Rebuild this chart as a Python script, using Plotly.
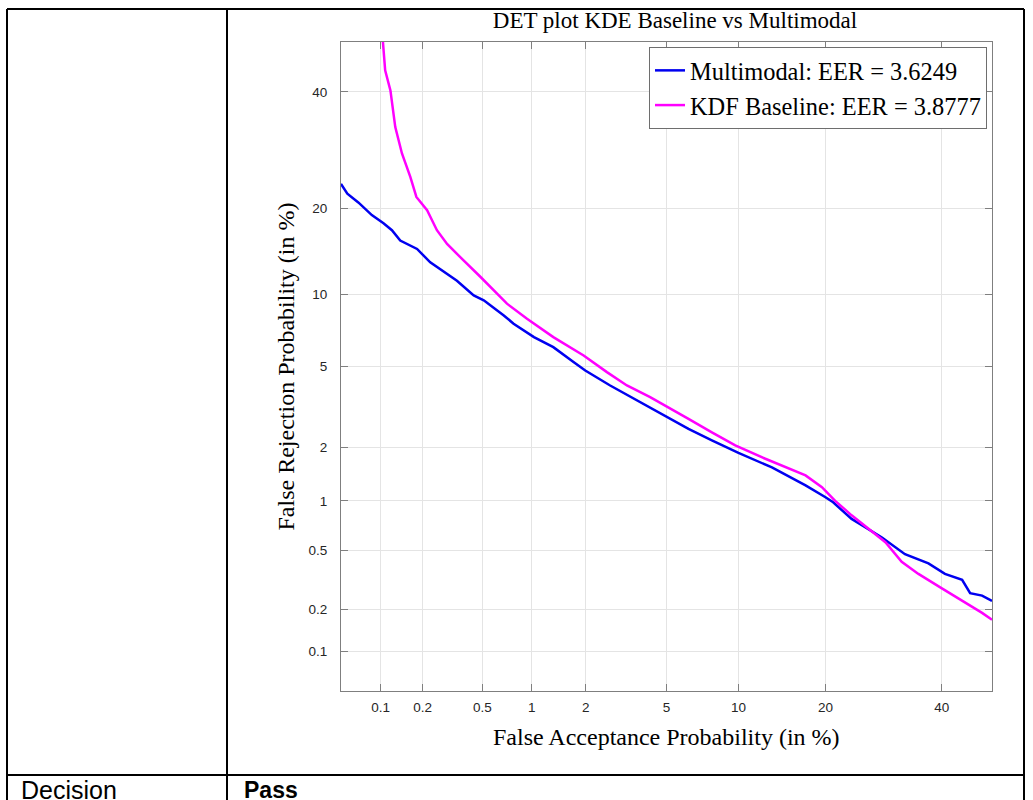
from statistics import NormalDist
import plotly.graph_objects as go

# DET curve points (both axes in %)
multimodal_fa = [0.05, 0.056, 0.068, 0.077, 0.086, 0.105, 0.121, 0.139, 0.183, 0.226,
                 0.279, 0.342, 0.44, 0.51, 0.68, 0.78, 1.03, 1.33, 1.72, 1.99,
                 2.68, 3.77, 5.10, 6.25, 7.84, 10.0, 13.3, 17.3, 20.0, 21.1,
                 23.9, 28.9, 33.0, 37.4, 40.6, 44.0, 45.6, 48.0, 50.0]
multimodal_fr = [23.6, 22.1, 20.8, 19.9, 19.0, 17.9, 17.0, 15.7, 14.7, 13.2,
                 12.2, 11.3, 9.94, 9.51, 8.28, 7.66, 6.73, 6.09, 5.23, 4.79,
                 4.08, 3.39, 2.86, 2.49, 2.17, 1.86, 1.55, 1.23, 1.05, 0.98,
                 0.78, 0.60, 0.47, 0.41, 0.35, 0.32, 0.26, 0.25, 0.23]

kde_fa = [0.104, 0.108, 0.118, 0.128, 0.143, 0.164, 0.181, 0.215, 0.251, 0.294,
          0.378, 0.485, 0.711, 0.938, 1.33, 1.95, 2.58, 3.25, 4.20, 4.93,
          6.25, 7.84, 9.72, 12.6, 17.3, 19.5, 21.4, 23.9, 27.2, 29.5,
          32.4, 35.5, 40.0, 44.6, 48.0, 50.0]
kde_fr = [50.0, 44.3, 40.3, 33.3, 28.6, 24.7, 21.6, 19.7, 17.0, 15.3,
          13.4, 11.7, 9.23, 8.03, 6.73, 5.60, 4.71, 4.08, 3.59, 3.27,
          2.80, 2.39, 2.04, 1.73, 1.40, 1.20, 1.00, 0.82, 0.65, 0.56,
          0.42, 0.35, 0.28, 0.225, 0.19, 0.17]

series_names = ["Multimodal: EER = 3.6249", "KDF Baseline: EER = 3.8777"]
tick_pct = [0.1, 0.2, 0.5, 1, 2, 5, 10, 20, 40]
tick_text = ["0.1", "0.2", "0.5", "1", "2", "5", "10", "20", "40"]
axis_lim = [0.05, 50]

W, H = 1033, 800
nd = NormalDist()


def probit(pct):
    # normal deviate scale used by DET plots
    return [nd.inv_cdf(p / 100.0) for p in pct]


def px_x(x):
    return x / W


def px_y(y):
    return 1 - y / H


fig = go.Figure()
fig.add_trace(go.Scatter(x=probit(multimodal_fa), y=probit(multimodal_fr), mode="lines",
                         name=series_names[0],
                         line=dict(color="#0000F0", width=2.5)))
fig.add_trace(go.Scatter(x=probit(kde_fa), y=probit(kde_fr), mode="lines",
                         name=series_names[1],
                         line=dict(color="#FF00FF", width=2.5)))

axis_common = dict(
    range=probit(axis_lim),
    tickmode="array",
    tickvals=probit(tick_pct),
    ticktext=tick_text,
    ticks="inside",
    ticklen=7,
    tickcolor="#7f7f7f",
    showline=True,
    linecolor="#7f7f7f",
    linewidth=1,
    mirror="ticks",
    showgrid=True,
    gridcolor="#e4e4e4",
    gridwidth=1,
    zeroline=False,
    tickfont=dict(family="Liberation Sans, Arial", size=13.5, color="#262626"),
)

serif = "Liberation Serif, Times New Roman, serif"

fig.update_layout(
    width=W,
    height=H,
    margin=dict(l=0, r=0, t=0, b=0),
    paper_bgcolor="white",
    plot_bgcolor="white",
    title=dict(text="DET plot KDE Baseline vs Multimodal", x=px_x(675), y=px_y(20),
               xref="container", yref="container", xanchor="center", yanchor="middle",
               font=dict(family=serif, size=23, color="black")),
    xaxis=dict(domain=[px_x(341), px_x(992)], ticklabelstandoff=4, **axis_common),
    yaxis=dict(domain=[px_y(691), px_y(42)], ticklabelstandoff=10, **axis_common),
    legend=dict(x=px_x(987), y=px_y(47), xanchor="right", yanchor="top",
                bgcolor="white", bordercolor="#6e6e6e", borderwidth=1,
                font=dict(family=serif, size=24.4, color="black")),
    showlegend=True,
)

# axis titles
fig.add_annotation(text="False Acceptance Probability (in %)", x=px_x(666.5), y=px_y(737),
                   xref="paper", yref="paper", showarrow=False, xanchor="center", yanchor="middle",
                   font=dict(family=serif, size=24, color="black"))
fig.add_annotation(text="False Rejection Probability (in %)", x=px_x(285), y=px_y(366.5),
                   xref="paper", yref="paper", showarrow=False, textangle=-90,
                   xanchor="center", yanchor="middle",
                   font=dict(family=serif, size=24, color="black"))

# surrounding table cells
table_lines = [
    (7, 9, 1024, 9),
    (7, 9, 7, 800),
    (1024, 9, 1024, 800),
    (227, 9, 227, 800),
    (7, 775, 1024, 775),
]
for x0, y0, x1, y1 in table_lines:
    fig.add_shape(type="line", xref="paper", yref="paper",
                  x0=px_x(x0), y0=px_y(y0), x1=px_x(x1), y1=px_y(y1),
                  line=dict(color="black", width=2))

fig.add_annotation(text="Decision", x=px_x(19), y=px_y(790), xref="paper", yref="paper",
                   showarrow=False, xanchor="left", yanchor="middle",
                   font=dict(family="Liberation Sans, Arial", size=25, color="black"))
fig.add_annotation(text="<b>Pass</b>", x=px_x(242), y=px_y(790), xref="paper", yref="paper",
                   showarrow=False, xanchor="left", yanchor="middle",
                   font=dict(family="Liberation Sans, Arial", size=23, color="black"))

# page body has a default 8px margin; drop it so the figure fills the window exactly
fig.write_html("out.html", config={"displayModeBar": False},
               post_script="document.body.style.margin = '0px';")
